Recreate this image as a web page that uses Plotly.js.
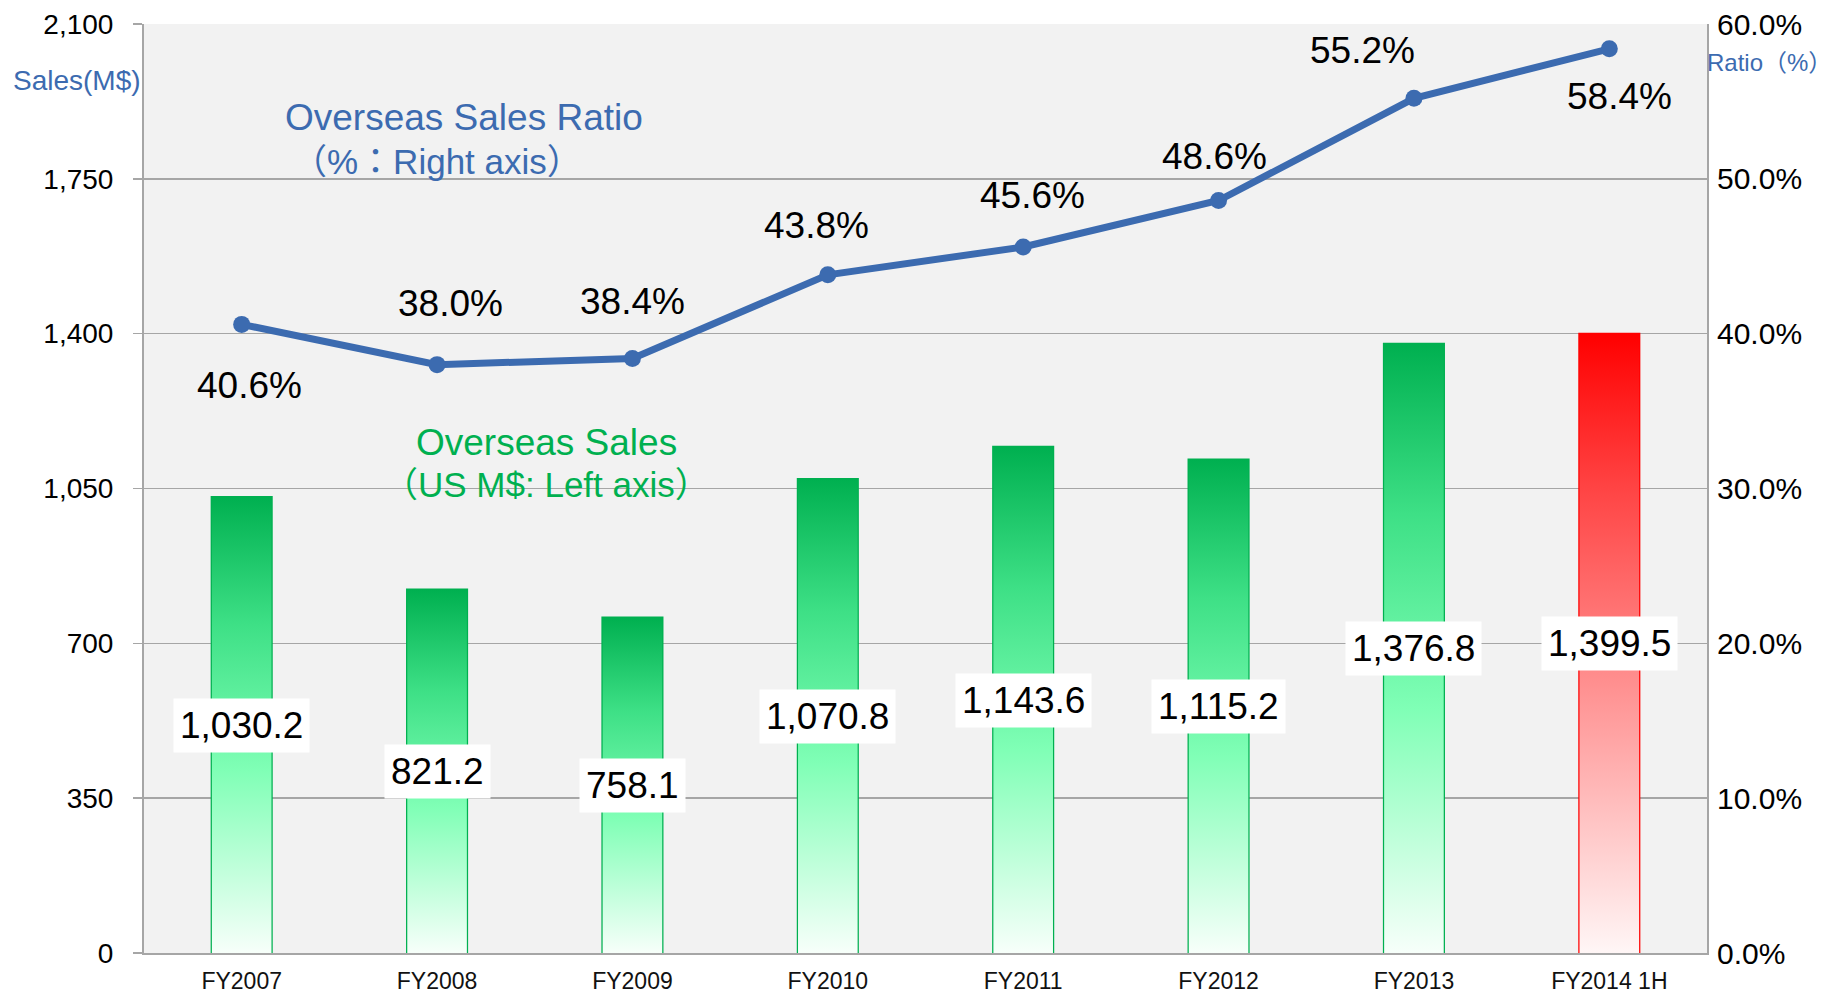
<!DOCTYPE html>
<html>
<head>
<meta charset="utf-8">
<script src="https://cdn.plot.ly/plotly-3.0.1.min.js"></script>
<style>
html,body{margin:0;padding:0;background:#fff;}
#chart{width:1839px;height:996px;}
</style>
</head>
<body>
<div id="chart"></div>
<script>
// ---- data ----
const categories = ['FY2007', 'FY2008', 'FY2009', 'FY2010', 'FY2011', 'FY2012', 'FY2013', 'FY2014 1H'];
const sales = [1030.2, 821.2, 758.1, 1070.8, 1143.6, 1115.2, 1376.8, 1399.5];
const ratio = [40.6, 38.0, 38.4, 43.8, 45.6, 48.6, 55.2, 58.4];
const salesLabels = ['1,030.2', '821.2', '758.1', '1,070.8', '1,143.6', '1,115.2', '1,376.8', '1,399.5'];
const ratioLabels = ['40.6%', '38.0%', '38.4%', '43.8%', '45.6%', '48.6%', '55.2%', '58.4%'];
const leftTicks = [0, 350, 700, 1050, 1400, 1750, 2100];
const leftTickLabels = ['0', '350', '700', '1,050', '1,400', '1,750', '2,100'];
const rightTicks = [0, 10, 20, 30, 40, 50, 60];
const rightTickLabels = ['0.0%', '10.0%', '20.0%', '30.0%', '40.0%', '50.0%', '60.0%'];

// ---- styles ----
const barStyle = ['green', 'green', 'green', 'green', 'green', 'green', 'green', 'red'];
const ratioLabelDx = [8, 13, 0, -11, 9, -4, -51, 10];
const ratioLabelDy = [-61, 61, 57, 49, 51, 44, 48, -48];

const GREEN = '#00b050', RED = '#ff0000', BLUE = '#3c6bb0';
const greenScale = [[0, '#f7fffa'], [0.4, '#80ffb6'], [0.72, '#3ee086'], [1, '#00b050']];
const redScale = [[0, '#fff6f6'], [0.45, '#ff8c8c'], [0.75, '#ff4444'], [1, '#ff0000']];
const BAR_W = 0.305;
const hw = BAR_W / 2;
const FONT = 'Liberation Sans, Arial, Noto Sans CJK JP, sans-serif';

const idx = categories.map((c, i) => i);
const traces = [];

// gradient fills for bars (computed from the sales values on the axis scale)
sales.forEach((v, i) => {
  traces.push({
    type: 'scatter', mode: 'lines', xaxis: 'x', yaxis: 'y',
    x: [i - hw, i - hw, i + hw, i + hw, i - hw],
    y: [0, v, v, 0, 0],
    fill: 'toself',
    fillgradient: {type: 'vertical', colorscale: barStyle[i] === 'red' ? redScale : greenScale},
    line: {width: 0, color: 'rgba(0,0,0,0)'},
    hoverinfo: 'skip', showlegend: false
  });
});

// bar outlines
traces.push({
  type: 'bar', x: idx, y: sales, width: BAR_W,
  marker: {color: 'rgba(0,0,0,0)', line: {color: barStyle.map(s => s === 'red' ? RED : GREEN), width: 2.5}},
  hoverinfo: 'skip', showlegend: false, name: 'Overseas Sales'
});

// ratio line
traces.push({
  type: 'scatter', mode: 'lines+markers', x: idx, y: ratio, yaxis: 'y2',
  line: {color: BLUE, width: 7},
  marker: {color: BLUE, size: 17},
  hoverinfo: 'skip', showlegend: false, name: 'Overseas Sales Ratio'
});

const annotations = [];
sales.forEach((v, i) => {
  annotations.push({
    xref: 'x', yref: 'y', x: i, y: v / 2, text: salesLabels[i], showarrow: false,
    font: {family: FONT, size: 37, color: '#000'}, bgcolor: '#ffffff', borderpad: 6,
    xanchor: 'center', yanchor: 'middle'
  });
});
ratio.forEach((v, i) => {
  annotations.push({
    xref: 'x', yref: 'y2', x: i, y: v, text: ratioLabels[i], showarrow: false,
    font: {family: FONT, size: 37, color: '#000'},
    xshift: ratioLabelDx[i], yshift: ratioLabelDy[i],
    xanchor: 'center', yanchor: 'middle'
  });
});
const textNotes = [
  {x: 0.2047, y: 0.899, text: 'Overseas Sales Ratio', color: BLUE, size: 37},
  {x: 0.1875, y: 0.8525, text: '（%：Right axis）', color: BLUE, size: 35},
  {x: 0.2578, y: 0.549, text: 'Overseas Sales', color: GREEN, size: 37},
  {x: 0.2572, y: 0.5048, text: '（US M$: Left axis）', color: GREEN, size: 35},
  {x: -0.0429, y: 0.9397, text: 'Sales(M$)', color: BLUE, size: 28},
  {x: 1.0403, y: 0.959, text: 'Ratio（%）', color: BLUE, size: 24}
];
textNotes.forEach(n => annotations.push({
  xref: 'paper', yref: 'paper', x: n.x, y: n.y, text: n.text, showarrow: false,
  font: {family: FONT, size: n.size, color: n.color}, xanchor: 'center', yanchor: 'middle'
}));

const layout = {
  width: 1839, height: 996,
  margin: {l: 144, r: 132, t: 24, b: 43, pad: 0},
  paper_bgcolor: '#ffffff', plot_bgcolor: '#f2f2f2',
  showlegend: false, bargap: 0,
  font: {family: FONT, color: '#000'},
  xaxis: {
    range: [-0.5, 7.5], tickmode: 'array', tickvals: idx, ticktext: categories,
    showgrid: false, zeroline: false, ticks: '',
    showline: true, linecolor: '#a6a6a6', linewidth: 2,
    tickfont: {family: FONT, size: 23, color: '#111'},
    ticklabelstandoff: 6, fixedrange: true
  },
  yaxis: {
    range: [0, 2100], tickmode: 'array', tickvals: leftTicks, ticktext: leftTickLabels,
    showgrid: true, gridcolor: '#a6a6a6', gridwidth: 1.5, zeroline: false,
    showline: true, linecolor: '#a6a6a6', linewidth: 2,
    ticks: 'outside', ticklen: 9, tickcolor: '#a6a6a6', tickwidth: 1.5,
    tickfont: {family: FONT, size: 28, color: '#000'},
    ticklabelstandoff: 14, fixedrange: true
  },
  yaxis2: {
    overlaying: 'y', side: 'right', range: [0, 60], tickmode: 'array',
    tickvals: rightTicks, ticktext: rightTickLabels,
    showgrid: false, zeroline: false,
    showline: true, linecolor: '#a6a6a6', linewidth: 2, ticks: '',
    tickfont: {family: FONT, size: 30, color: '#000'},
    ticklabelstandoff: 2, fixedrange: true
  },
  annotations: annotations
};

Plotly.newPlot('chart', traces, layout, {staticPlot: true, displayModeBar: false});
</script>
</body>
</html>
